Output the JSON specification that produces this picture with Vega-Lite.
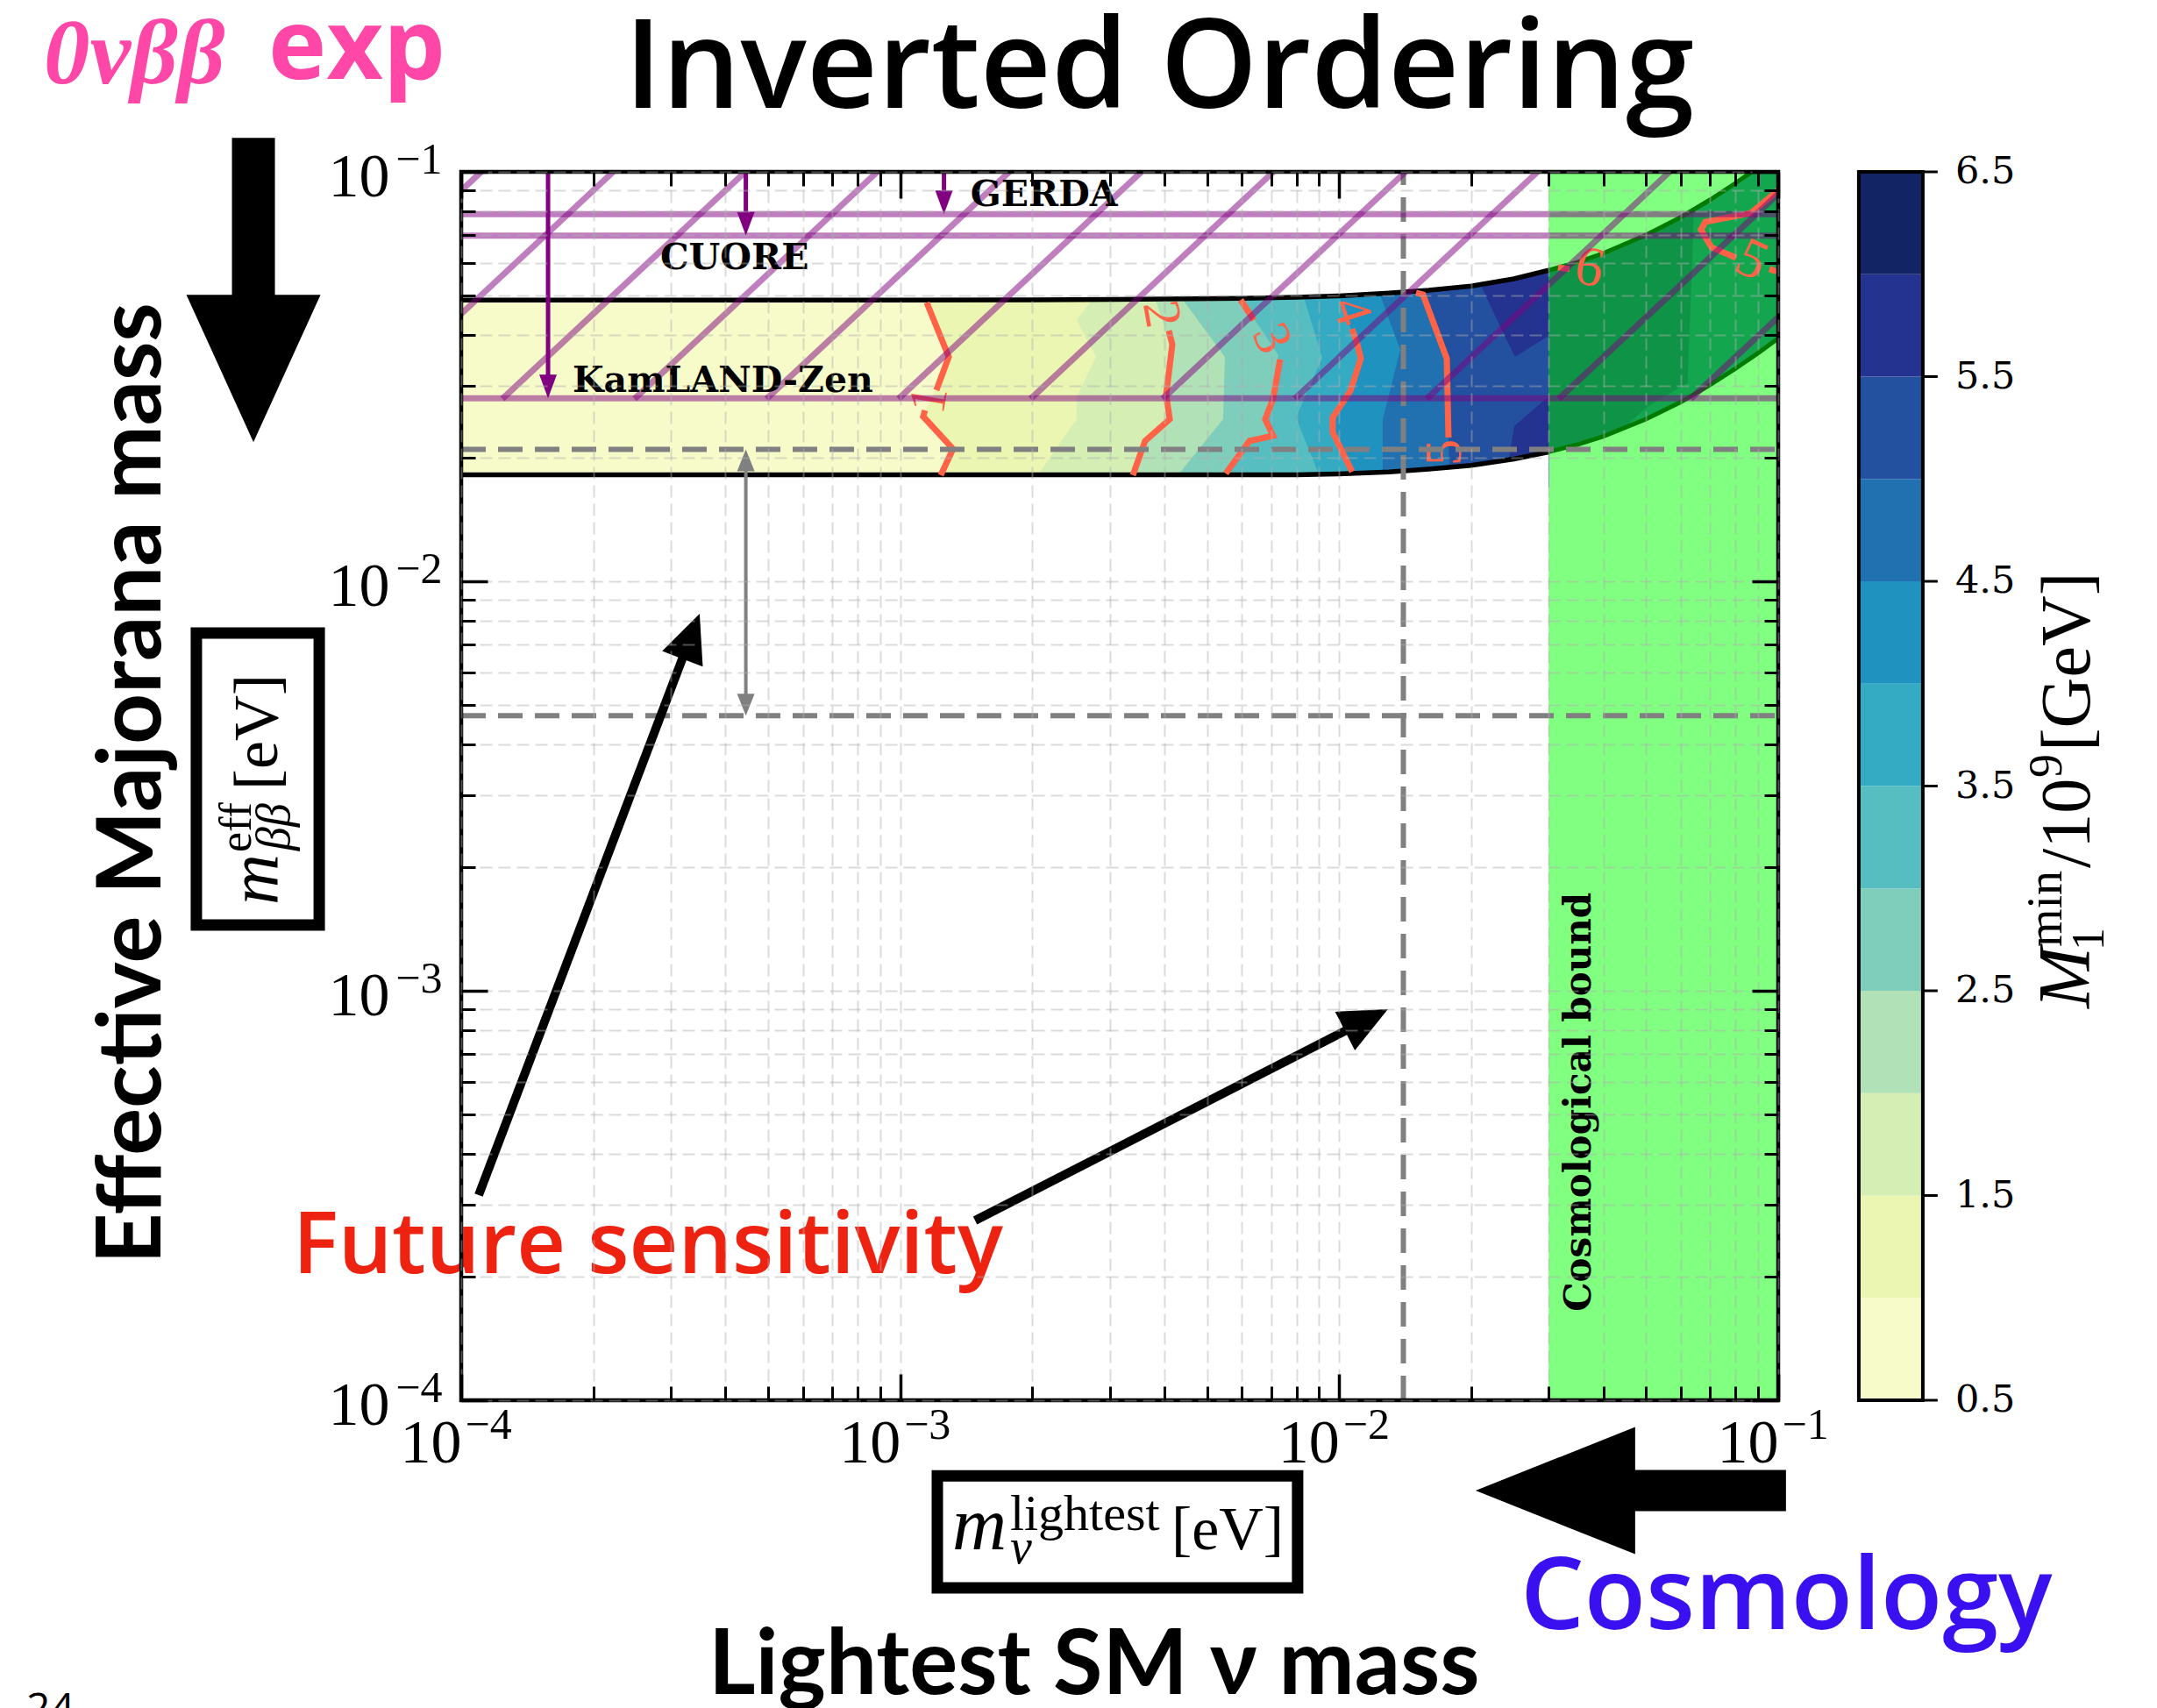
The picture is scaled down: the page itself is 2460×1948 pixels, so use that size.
{
"$schema": "https://vega.github.io/schema/vega-lite/v6.json",
"width": 1502, "height": 1401,
"autosize": {"type": "none"},
"padding": {"left": 526, "top": 196, "right": 432, "bottom": 351},
"background": "white",
"config": {"view": {"stroke": null}},
"datasets": {
"band": [
{"x":0.0001,"lo":0.0182,"hi":0.0486},{"x":0.0003,"lo":0.0182,"hi":0.0486},{"x":0.001,"lo":0.0182,"hi":0.0486},{"x":0.002,"lo":0.0182,"hi":0.0487},{"x":0.004,"lo":0.0182,"hi":0.0489},{"x":0.006,"lo":0.0182,"hi":0.0491},{"x":0.008,"lo":0.0182,"hi":0.0494},{"x":0.01,"lo":0.0183,"hi":0.0498},{"x":0.013,"lo":0.0185,"hi":0.0506},{"x":0.016,"lo":0.0188,"hi":0.0514},{"x":0.02,"lo":0.0192,"hi":0.0526},{"x":0.025,"lo":0.0199,"hi":0.0548},{"x":0.03,"lo":0.0207,"hi":0.0575},{"x":0.035,"lo":0.0216,"hi":0.0602},{"x":0.04,"lo":0.0226,"hi":0.0633},{"x":0.05,"lo":0.0249,"hi":0.0701},{"x":0.06,"lo":0.0274,"hi":0.0775},{"x":0.07,"lo":0.0302,"hi":0.0855},{"x":0.08,"lo":0.0331,"hi":0.0939},{"x":0.09,"lo":0.0361,"hi":0.1025},{"x":0.1,"lo":0.0392,"hi":0.1114}
],
"regions": [
{"lev":1.25,"part":"a","y":0.06,"x":0.001149,"x2":0.03},{"lev":1.25,"part":"a","y":0.04845,"x":0.001149,"x2":0.03},{"lev":1.25,"part":"a","y":0.03533,"x":0.00129,"x2":0.03},{"lev":1.25,"part":"a","y":0.029,"x":0.001198,"x2":0.03},{"lev":1.25,"part":"a","y":0.02552,"x":0.001128,"x2":0.03},{"lev":1.25,"part":"a","y":0.02105,"x":0.001319,"x2":0.03},{"lev":1.25,"part":"a","y":0.01816,"x":0.001237,"x2":0.03},{"lev":1.25,"part":"a","y":0.017,"x":0.001237,"x2":0.03},
{"lev":1.75,"part":"a","y":0.06,"x":0.002729,"x2":0.03},{"lev":1.75,"part":"a","y":0.04845,"x":0.002729,"x2":0.03},{"lev":1.75,"part":"a","y":0.04346,"x":0.002523,"x2":0.03},{"lev":1.75,"part":"a","y":0.03533,"x":0.002793,"x2":0.03},{"lev":1.75,"part":"a","y":0.02817,"x":0.002523,"x2":0.03},{"lev":1.75,"part":"a","y":0.02489,"x":0.002523,"x2":0.03},{"lev":1.75,"part":"a","y":0.01834,"x":0.002071,"x2":0.03},{"lev":1.75,"part":"a","y":0.017,"x":0.002071,"x2":0.03},
{"lev":2.25,"part":"a","y":0.06,"x":0.003818,"x2":0.03},{"lev":2.25,"part":"a","y":0.04845,"x":0.003818,"x2":0.03},{"lev":2.25,"part":"a","y":0.04198,"x":0.003998,"x2":0.03},{"lev":2.25,"part":"a","y":0.03786,"x":0.00411,"x2":0.03},{"lev":2.25,"part":"a","y":0.02858,"x":0.004035,"x2":0.03},{"lev":2.25,"part":"a","y":0.02489,"x":0.00411,"x2":0.03},{"lev":2.25,"part":"a","y":0.02201,"x":0.003612,"x2":0.03},{"lev":2.25,"part":"a","y":0.01816,"x":0.003388,"x2":0.03},{"lev":2.25,"part":"a","y":0.017,"x":0.003388,"x2":0.03},
{"lev":2.75,"part":"a","y":0.06,"x":0.004422,"x2":0.03},{"lev":2.75,"part":"a","y":0.04845,"x":0.004422,"x2":0.03},{"lev":2.75,"part":"a","y":0.03533,"x":0.00549,"x2":0.03},{"lev":2.75,"part":"a","y":0.02489,"x":0.00544,"x2":0.03},{"lev":2.75,"part":"a","y":0.01834,"x":0.004321,"x2":0.03},{"lev":2.75,"part":"a","y":0.017,"x":0.004321,"x2":0.03},
{"lev":3.25,"part":"a","y":0.06,"x":0.005963,"x2":0.03},{"lev":3.25,"part":"a","y":0.04869,"x":0.005963,"x2":0.03},{"lev":3.25,"part":"a","y":0.04076,"x":0.006691,"x2":0.03},{"lev":3.25,"part":"a","y":0.03568,"x":0.007267,"x2":0.03},{"lev":3.25,"part":"a","y":0.02789,"x":0.007069,"x2":0.03},{"lev":3.25,"part":"a","y":0.02489,"x":0.006782,"x2":0.03},{"lev":3.25,"part":"a","y":0.02267,"x":0.007069,"x2":0.03},{"lev":3.25,"part":"a","y":0.02201,"x":0.006244,"x2":0.03},{"lev":3.25,"part":"a","y":0.01834,"x":0.005515,"x2":0.03},{"lev":3.25,"part":"a","y":0.017,"x":0.005515,"x2":0.03},
{"lev":3.75,"part":"a","y":0.06,"x":0.008305,"x2":0.03},{"lev":3.75,"part":"a","y":0.04941,"x":0.008305,"x2":0.03},{"lev":3.75,"part":"a","y":0.03516,"x":0.009148,"x2":0.03},{"lev":3.75,"part":"a","y":0.02514,"x":0.007968,"x2":0.03},{"lev":3.75,"part":"a","y":0.01852,"x":0.00894,"x2":0.03},{"lev":3.75,"part":"a","y":0.017,"x":0.00894,"x2":0.03},
{"lev":4.25,"part":"a","y":0.06,"x":0.01003,"x2":0.03},{"lev":4.25,"part":"a","y":0.04917,"x":0.01003,"x2":0.03},{"lev":4.25,"part":"a","y":0.04178,"x":0.0106,"x2":0.03},{"lev":4.25,"part":"a","y":0.03786,"x":0.011,"x2":0.03},{"lev":4.25,"part":"a","y":0.03499,"x":0.0112,"x2":0.03},{"lev":4.25,"part":"a","y":0.02915,"x":0.0106,"x2":0.03},{"lev":4.25,"part":"a","y":0.02514,"x":0.009665,"x2":0.03},{"lev":4.25,"part":"a","y":0.02312,"x":0.009665,"x2":0.03},{"lev":4.25,"part":"a","y":0.01852,"x":0.0107,"x2":0.03},{"lev":4.25,"part":"a","y":0.017,"x":0.0107,"x2":0.03},
{"lev":4.75,"part":"a","y":0.06,"x":0.01245,"x2":0.03},{"lev":4.75,"part":"a","y":0.04941,"x":0.01245,"x2":0.03},{"lev":4.75,"part":"a","y":0.03675,"x":0.01377,"x2":0.03},{"lev":4.75,"part":"a","y":0.02477,"x":0.01256,"x2":0.03},{"lev":4.75,"part":"a","y":0.01852,"x":0.01256,"x2":0.03},{"lev":4.75,"part":"a","y":0.017,"x":0.01256,"x2":0.03},
{"lev":5.25,"part":"a","y":0.06,"x":0.01496,"x2":0.03},{"lev":5.25,"part":"a","y":0.05065,"x":0.01496,"x2":0.03},{"lev":5.25,"part":"a","y":0.05015,"x":0.01552,"x2":0.03},{"lev":5.25,"part":"a","y":0.03499,"x":0.01758,"x2":0.03},{"lev":5.25,"part":"a","y":0.02245,"x":0.01774,"x2":0.03},{"lev":5.25,"part":"a","y":0.0188,"x":0.01782,"x2":0.03},{"lev":5.25,"part":"a","y":0.017,"x":0.01782,"x2":0.03},
{"lev":5.75,"part":"a","y":0.06,"x":0.02113,"x2":0.03},{"lev":5.75,"part":"a","y":0.05216,"x":0.02113,"x2":0.03},{"lev":5.75,"part":"a","y":0.03977,"x":0.0238,"x2":0.03},{"lev":5.75,"part":"a","y":0.03533,"x":0.02515,"x2":0.02515},
{"lev":5.75,"part":"b","y":0.0283,"x":0.03,"x2":0.03},{"lev":5.75,"part":"b","y":0.02393,"x":0.02504,"x2":0.03},{"lev":5.75,"part":"b","y":0.01936,"x":0.02424,"x2":0.03},{"lev":5.75,"part":"b","y":0.017,"x":0.02424,"x2":0.03}
],
"ctr": [
{"seg":"1a","i":0,"x":0.001149,"y":0.04797},{"seg":"1a","i":1,"x":0.00129,"y":0.03533},{"seg":"1a","i":2,"x":0.001209,"y":0.02929},
{"seg":"1b","i":0,"x":0.001139,"y":0.02616},{"seg":"1b","i":1,"x":0.001128,"y":0.02527},{"seg":"1b","i":2,"x":0.001319,"y":0.02105},{"seg":"1b","i":3,"x":0.001237,"y":0.01816},
{"seg":"2","i":0,"x":0.004091,"y":0.04096},{"seg":"2","i":1,"x":0.004167,"y":0.03786},{"seg":"2","i":2,"x":0.004035,"y":0.02858},{"seg":"2","i":3,"x":0.00411,"y":0.02489},{"seg":"2","i":4,"x":0.003612,"y":0.02201},{"seg":"2","i":5,"x":0.003388,"y":0.01816},
{"seg":"3a","i":0,"x":0.005963,"y":0.04869},{"seg":"3a","i":1,"x":0.00639,"y":0.04346},
{"seg":"3b","i":0,"x":0.007334,"y":0.03482},{"seg":"3b","i":1,"x":0.007069,"y":0.02789},{"seg":"3b","i":2,"x":0.006782,"y":0.02489},{"seg":"3b","i":3,"x":0.007069,"y":0.02267},{"seg":"3b","i":4,"x":0.006244,"y":0.02201},{"seg":"3b","i":5,"x":0.005515,"y":0.01834},
{"seg":"4","i":0,"x":0.0107,"y":0.04137},{"seg":"4","i":1,"x":0.011,"y":0.03786},{"seg":"4","i":2,"x":0.0112,"y":0.03499},{"seg":"4","i":3,"x":0.0106,"y":0.02915},{"seg":"4","i":4,"x":0.009665,"y":0.02514},{"seg":"4","i":5,"x":0.009665,"y":0.02312},{"seg":"4","i":6,"x":0.0107,"y":0.01852},
{"seg":"5","i":0,"x":0.01496,"y":0.05065},{"seg":"5","i":1,"x":0.01552,"y":0.05015},{"seg":"5","i":2,"x":0.01758,"y":0.03499},{"seg":"5","i":3,"x":0.01774,"y":0.02245},
{"seg":"6","i":0,"x":0.03151,"y":0.05843},{"seg":"6","i":1,"x":0.03346,"y":0.05789},
{"seg":"5b","i":0,"x":0.1,"y":0.09016},{"seg":"5b","i":1,"x":0.08667,"y":0.0793},{"seg":"5b","i":2,"x":0.06823,"y":0.07547},{"seg":"5b","i":3,"x":0.06669,"y":0.07221},{"seg":"5b","i":4,"x":0.07047,"y":0.06541},{"seg":"5b","i":5,"x":0.08017,"y":0.06166},
{"seg":"5c","i":0,"x":0.09546,"y":0.05789},{"seg":"5c","i":1,"x":0.1,"y":0.05703}
]
},
"layer": [
{
"layer": [
{"data":{"values":[{"x":0.001,"y":0.001}]},"mark":{"type":"point","opacity":0},
 "encoding":{
  "x":{"field":"x","type":"quantitative","scale":{"type":"log","domain":[0.0001,0.1],"nice":false},
   "axis":{"orient":"bottom","values":[0.0001,0.001,0.01,0.1],"labelExpr":"'10'","ticks":false,"domain":false,"grid":false,"title":null,"labelFont":"Liberation Serif","labelFontSize":70,"labelColor":"black","labelAlign":"right","labelBaseline":"alphabetic","labelPadding":70,"labelOffset":0,"labelOverlap":false,"labelFlush":false,"labelBound":false}},
  "y":{"field":"y","type":"quantitative","scale":{"type":"log","domain":[0.0001,0.1],"nice":false},
   "axis":{"orient":"left","values":[0.0001,0.001,0.01,0.1],"labelExpr":"'10'","ticks":false,"domain":false,"grid":false,"title":null,"labelFont":"Liberation Serif","labelFontSize":70,"labelColor":"black","labelAlign":"right","labelBaseline":"alphabetic","labelPadding":82,"labelOffset":27,"labelOverlap":false,"labelFlush":false,"labelBound":false}}}},
{"data":{"values":[{"x":0.001,"y":0.001}]},"mark":{"type":"point","opacity":0},
 "encoding":{
  "x":{"field":"x","type":"quantitative","scale":{"type":"log"},
   "axis":{"orient":"bottom","values":[0.0001,0.001,0.01,0.1],"labelExpr":"'−' + (-round(log(datum.value) / LN10))","ticks":false,"domain":false,"grid":false,"title":null,"labelFont":"Liberation Serif","labelFontSize":50,"labelColor":"black","labelAlign":"left","labelBaseline":"alphabetic","labelPadding":43,"labelOffset":4,"labelOverlap":false,"labelFlush":false,"labelBound":false}},
  "y":{"field":"y","type":"quantitative","scale":{"type":"log"},
   "axis":{"orient":"left","values":[0.0001,0.001,0.01,0.1],"labelExpr":"'−' + (-round(log(datum.value) / LN10))","ticks":false,"domain":false,"grid":false,"title":null,"labelFont":"Liberation Serif","labelFontSize":50,"labelColor":"black","labelAlign":"right","labelBaseline":"alphabetic","labelPadding":22,"labelOffset":1,"labelOverlap":false,"labelFlush":false,"labelBound":false}}}},
{"data":{"values":[{"x":0.001,"y":0.001}]},"mark":{"type":"point","opacity":0},
 "encoding":{
  "x":{"field":"x","type":"quantitative","scale":{"type":"log"},
   "axis":{"orient":"bottom","values":[0.0001,0.001,0.01,0.1],"labels":false,"domain":false,"ticks":true,"tickSize":-30,"tickWidth":3.5,"tickColor":"black","grid":true,"gridColor":"#b0b0b0","gridOpacity":0.45,"gridDash":[14,7],"gridWidth":2,"title":null,"zindex":1}},
  "y":{"field":"y","type":"quantitative","scale":{"type":"log"},
   "axis":{"orient":"left","values":[0.0001,0.001,0.01,0.1],"labels":false,"domain":false,"ticks":true,"tickSize":-30,"tickWidth":3.5,"tickColor":"black","grid":true,"gridColor":"#b0b0b0","gridOpacity":0.45,"gridDash":[14,7],"gridWidth":2,"title":null,"zindex":1}}}},
{"data":{"values":[{"x":0.001,"y":0.001}]},"mark":{"type":"point","opacity":0},
 "encoding":{
  "x":{"field":"x","type":"quantitative","scale":{"type":"log"},
   "axis":{"orient":"bottom","values":[0.0002,0.0003,0.0004,0.0005,0.0006,0.0007,0.0008,0.0009,0.002,0.003,0.004,0.005,0.006,0.007,0.008,0.009,0.02,0.03,0.04,0.05,0.06,0.07,0.08,0.09],"labels":false,"domain":false,"ticks":true,"tickSize":-16,"tickWidth":3,"tickColor":"black","grid":true,"gridColor":"#b0b0b0","gridOpacity":0.45,"gridDash":[14,7],"gridWidth":2,"title":null,"zindex":1}},
  "y":{"field":"y","type":"quantitative","scale":{"type":"log"},
   "axis":{"orient":"left","values":[0.0002,0.0003,0.0004,0.0005,0.0006,0.0007,0.0008,0.0009,0.002,0.003,0.004,0.005,0.006,0.007,0.008,0.009,0.02,0.03,0.04,0.05,0.06,0.07,0.08,0.09],"labels":false,"domain":false,"ticks":true,"tickSize":-16,"tickWidth":3,"tickColor":"black","grid":true,"gridColor":"#b0b0b0","gridOpacity":0.45,"gridDash":[14,7],"gridWidth":2,"title":null,"zindex":1}}}},
{"data":{"values":[{"x":0.001,"y":0.001}]},"mark":{"type":"point","opacity":0},
 "encoding":{
  "x":{"field":"x","type":"quantitative","scale":{"type":"log"},
   "axis":{"orient":"top","values":[0.0001,0.001,0.01,0.1],"labels":false,"domain":false,"ticks":true,"tickSize":-30,"tickWidth":3.5,"tickColor":"black","grid":false,"title":null,"zindex":1}},
  "y":{"field":"y","type":"quantitative","scale":{"type":"log"},
   "axis":{"orient":"right","values":[0.0001,0.001,0.01,0.1],"labels":false,"domain":false,"ticks":true,"tickSize":-30,"tickWidth":3.5,"tickColor":"black","grid":false,"title":null,"zindex":1}}}},
{"data":{"values":[{"x":0.001,"y":0.001}]},"mark":{"type":"point","opacity":0},
 "encoding":{
  "x":{"field":"x","type":"quantitative","scale":{"type":"log"},
   "axis":{"orient":"top","values":[0.0002,0.0003,0.0004,0.0005,0.0006,0.0007,0.0008,0.0009,0.002,0.003,0.004,0.005,0.006,0.007,0.008,0.009,0.02,0.03,0.04,0.05,0.06,0.07,0.08,0.09],"labels":false,"domain":false,"ticks":true,"tickSize":-16,"tickWidth":3,"tickColor":"black","grid":false,"title":null,"zindex":1}},
  "y":{"field":"y","type":"quantitative","scale":{"type":"log"},
   "axis":{"orient":"right","values":[0.0002,0.0003,0.0004,0.0005,0.0006,0.0007,0.0008,0.0009,0.002,0.003,0.004,0.005,0.006,0.007,0.008,0.009,0.02,0.03,0.04,0.05,0.06,0.07,0.08,0.09],"labels":false,"domain":false,"ticks":true,"tickSize":-16,"tickWidth":3,"tickColor":"black","grid":false,"title":null,"zindex":1}}}},

{"data":{"values":[{"x":0.03,"x2":0.1,"y":0.0001,"y2":0.1}]},"mark":{"type":"rect","color":"#80ff80"},
 "encoding":{"x":{"field":"x","type":"quantitative","scale":{"type":"log"},"axis":null},"x2":{"field":"x2"},"y":{"field":"y","type":"quantitative","scale":{"type":"log"},"axis":null},"y2":{"field":"y2"}}},

{"data":{"name":"band"},"transform":[{"filter":"datum.x <= 0.03"}],"mark":{"type":"area","color":"#f7fbc9","orient":"vertical"},
 "encoding":{"x":{"field":"x","type":"quantitative","scale":{"type":"log"},"axis":null},"y":{"field":"lo","type":"quantitative","scale":{"type":"log"},"axis":null},"y2":{"field":"hi"}}},

{"data":{"name":"regions"},"transform":[{"filter":"datum.lev == 1.25"}],"mark":{"type":"area","orient":"horizontal","color":"#eaf6b1"},
 "encoding":{"y":{"field":"y","type":"quantitative","scale":{"type":"log"},"axis":null},"x":{"field":"x","type":"quantitative","scale":{"type":"log"},"axis":null},"x2":{"field":"x2"},"detail":{"field":"part"}}},
{"data":{"name":"regions"},"transform":[{"filter":"datum.lev == 1.75"}],"mark":{"type":"area","orient":"horizontal","color":"#d4eeb3"},
 "encoding":{"y":{"field":"y","type":"quantitative","scale":{"type":"log"},"axis":null},"x":{"field":"x","type":"quantitative","scale":{"type":"log"},"axis":null},"x2":{"field":"x2"},"detail":{"field":"part"}}},
{"data":{"name":"regions"},"transform":[{"filter":"datum.lev == 2.25"}],"mark":{"type":"area","orient":"horizontal","color":"#b1e1b6"},
 "encoding":{"y":{"field":"y","type":"quantitative","scale":{"type":"log"},"axis":null},"x":{"field":"x","type":"quantitative","scale":{"type":"log"},"axis":null},"x2":{"field":"x2"},"detail":{"field":"part"}}},
{"data":{"name":"regions"},"transform":[{"filter":"datum.lev == 2.75"}],"mark":{"type":"area","orient":"horizontal","color":"#7fcdbb"},
 "encoding":{"y":{"field":"y","type":"quantitative","scale":{"type":"log"},"axis":null},"x":{"field":"x","type":"quantitative","scale":{"type":"log"},"axis":null},"x2":{"field":"x2"},"detail":{"field":"part"}}},
{"data":{"name":"regions"},"transform":[{"filter":"datum.lev == 3.25"}],"mark":{"type":"area","orient":"horizontal","color":"#56bec1"},
 "encoding":{"y":{"field":"y","type":"quantitative","scale":{"type":"log"},"axis":null},"x":{"field":"x","type":"quantitative","scale":{"type":"log"},"axis":null},"x2":{"field":"x2"},"detail":{"field":"part"}}},
{"data":{"name":"regions"},"transform":[{"filter":"datum.lev == 3.75"}],"mark":{"type":"area","orient":"horizontal","color":"#35abc3"},
 "encoding":{"y":{"field":"y","type":"quantitative","scale":{"type":"log"},"axis":null},"x":{"field":"x","type":"quantitative","scale":{"type":"log"},"axis":null},"x2":{"field":"x2"},"detail":{"field":"part"}}},
{"data":{"name":"regions"},"transform":[{"filter":"datum.lev == 4.25"}],"mark":{"type":"area","orient":"horizontal","color":"#1f92c0"},
 "encoding":{"y":{"field":"y","type":"quantitative","scale":{"type":"log"},"axis":null},"x":{"field":"x","type":"quantitative","scale":{"type":"log"},"axis":null},"x2":{"field":"x2"},"detail":{"field":"part"}}},
{"data":{"name":"regions"},"transform":[{"filter":"datum.lev == 4.75"}],"mark":{"type":"area","orient":"horizontal","color":"#2171b1"},
 "encoding":{"y":{"field":"y","type":"quantitative","scale":{"type":"log"},"axis":null},"x":{"field":"x","type":"quantitative","scale":{"type":"log"},"axis":null},"x2":{"field":"x2"},"detail":{"field":"part"}}},
{"data":{"name":"regions"},"transform":[{"filter":"datum.lev == 5.25"}],"mark":{"type":"area","orient":"horizontal","color":"#2351a0"},
 "encoding":{"y":{"field":"y","type":"quantitative","scale":{"type":"log"},"axis":null},"x":{"field":"x","type":"quantitative","scale":{"type":"log"},"axis":null},"x2":{"field":"x2"},"detail":{"field":"part"}}},
{"data":{"name":"regions"},"transform":[{"filter":"datum.lev == 5.75"}],"mark":{"type":"area","orient":"horizontal","color":"#24338f"},
 "encoding":{"y":{"field":"y","type":"quantitative","scale":{"type":"log"},"axis":null},"x":{"field":"x","type":"quantitative","scale":{"type":"log"},"axis":null},"x2":{"field":"x2"},"detail":{"field":"part"}}},

{"data":{"name":"band"},"transform":[{"filter":"datum.x >= 0.001 && datum.x <= 0.03"}],"mark":{"type":"area","color":"white","orient":"vertical"},
 "encoding":{"x":{"field":"x","type":"quantitative","scale":{"type":"log"},"axis":null},"y":{"field":"hi","type":"quantitative","scale":{"type":"log"},"axis":null},"y2":{"datum":0.063}}},
{"data":{"name":"band"},"transform":[{"filter":"datum.x >= 0.001 && datum.x <= 0.03"}],"mark":{"type":"area","color":"white","orient":"vertical"},
 "encoding":{"x":{"field":"x","type":"quantitative","scale":{"type":"log"},"axis":null},"y":{"field":"lo","type":"quantitative","scale":{"type":"log"},"axis":null},"y2":{"datum":0.0165}}},

{"data":{"name":"band"},"transform":[{"filter":"datum.x >= 0.03"}],"mark":{"type":"area","color":"#0f9447","orient":"vertical","clip":true},
 "encoding":{"x":{"field":"x","type":"quantitative","scale":{"type":"log"},"axis":null},"y":{"field":"lo","type":"quantitative","scale":{"type":"log"},"axis":null},"y2":{"field":"hi"}}},
{"data":{"values":[{"x":0.04408,"lo":0.0235,"hi":0.0235},{"x":0.0501,"lo":0.0249,"hi":0.0266},{"x":0.0622,"lo":0.028,"hi":0.0305},{"x":0.0643,"lo":0.0286,"hi":0.081},{"x":0.07,"lo":0.0302,"hi":0.0855},{"x":0.08,"lo":0.0331,"hi":0.0939},{"x":0.09,"lo":0.0361,"hi":0.1025},{"x":0.1,"lo":0.0392,"hi":0.1114}]},
 "mark":{"type":"area","color":"#14a54f","orient":"vertical","clip":true},
 "encoding":{"x":{"field":"x","type":"quantitative","scale":{"type":"log"},"axis":null},"y":{"field":"lo","type":"quantitative","scale":{"type":"log"},"axis":null},"y2":{"field":"hi"}}},

{"data":{"name":"band"},"transform":[{"filter":"datum.x <= 0.03"}],"mark":{"type":"line","color":"black","strokeWidth":5.5,"clip":true},
 "encoding":{"x":{"field":"x","type":"quantitative","scale":{"type":"log"},"axis":null},"y":{"field":"hi","type":"quantitative","scale":{"type":"log"},"axis":null}}},
{"data":{"name":"band"},"transform":[{"filter":"datum.x <= 0.03"}],"mark":{"type":"line","color":"black","strokeWidth":5.5,"clip":true},
 "encoding":{"x":{"field":"x","type":"quantitative","scale":{"type":"log"},"axis":null},"y":{"field":"lo","type":"quantitative","scale":{"type":"log"},"axis":null}}},
{"data":{"name":"band"},"transform":[{"filter":"datum.x >= 0.03"}],"mark":{"type":"line","color":"#007a00","strokeWidth":5,"clip":true},
 "encoding":{"x":{"field":"x","type":"quantitative","scale":{"type":"log"},"axis":null},"y":{"field":"hi","type":"quantitative","scale":{"type":"log"},"axis":null}}},
{"data":{"name":"band"},"transform":[{"filter":"datum.x >= 0.03"}],"mark":{"type":"line","color":"#007a00","strokeWidth":5,"clip":true},
 "encoding":{"x":{"field":"x","type":"quantitative","scale":{"type":"log"},"axis":null},"y":{"field":"lo","type":"quantitative","scale":{"type":"log"},"axis":null}}},

{"data":{"name":"ctr"},"mark":{"type":"line","color":"#ff6347","strokeWidth":7,"clip":true},
 "encoding":{"x":{"field":"x","type":"quantitative","scale":{"type":"log"},"axis":null},"y":{"field":"y","type":"quantitative","scale":{"type":"log"},"axis":null},"detail":{"field":"seg"},"order":{"field":"i","type":"quantitative"}}},
{"data":{"values":[{"x":0.001166,"y":0.02775,"t":"1"}]},"mark":{"type":"text","angle":280,"font":"Liberation Serif","fontSize":60,"color":"#ff6347","align":"center","baseline":"middle"},
 "encoding":{"x":{"field":"x","type":"quantitative","scale":{"type":"log"},"axis":null},"y":{"field":"y","type":"quantitative","scale":{"type":"log"},"axis":null},"text":{"field":"t"}}},
{"data":{"values":[{"x":0.003925,"y":0.04498,"t":"2"}]},"mark":{"type":"text","angle":80,"font":"Liberation Serif","fontSize":60,"color":"#ff6347","align":"center","baseline":"middle"},
 "encoding":{"x":{"field":"x","type":"quantitative","scale":{"type":"log"},"axis":null},"y":{"field":"y","type":"quantitative","scale":{"type":"log"},"axis":null},"text":{"field":"t"}}},
{"data":{"values":[{"x":0.007004,"y":0.03917,"t":"3"}]},"mark":{"type":"text","angle":65,"font":"Liberation Serif","fontSize":60,"color":"#ff6347","align":"center","baseline":"middle"},
 "encoding":{"x":{"field":"x","type":"quantitative","scale":{"type":"log"},"axis":null},"y":{"field":"y","type":"quantitative","scale":{"type":"log"},"axis":null},"text":{"field":"t"}}},
{"data":{"values":[{"x":0.01065,"y":0.04565,"t":"4"}]},"mark":{"type":"text","angle":72,"font":"Liberation Serif","fontSize":60,"color":"#ff6347","align":"center","baseline":"middle"},
 "encoding":{"x":{"field":"x","type":"quantitative","scale":{"type":"log"},"axis":null},"y":{"field":"y","type":"quantitative","scale":{"type":"log"},"axis":null},"text":{"field":"t"}}},
{"data":{"values":[{"x":0.01741,"y":0.02064,"t":"5"}]},"mark":{"type":"text","angle":270,"font":"Liberation Serif","fontSize":60,"color":"#ff6347","align":"center","baseline":"middle"},
 "encoding":{"x":{"field":"x","type":"quantitative","scale":{"type":"log"},"axis":null},"y":{"field":"y","type":"quantitative","scale":{"type":"log"},"axis":null},"text":{"field":"t"}}},
{"data":{"values":[{"x":0.03719,"y":0.05815,"t":"6"}]},"mark":{"type":"text","angle":12,"font":"Liberation Serif","fontSize":64,"color":"#ff6347","align":"center","baseline":"middle"},
 "encoding":{"x":{"field":"x","type":"quantitative","scale":{"type":"log"},"axis":null},"y":{"field":"y","type":"quantitative","scale":{"type":"log"},"axis":null},"text":{"field":"t"}}},
{"data":{"values":[{"x":0.08707,"y":0.06076,"t":"5"}]},"mark":{"type":"text","angle":25,"font":"Liberation Serif","fontSize":64,"color":"#ff6347","align":"center","baseline":"middle"},
 "encoding":{"x":{"field":"x","type":"quantitative","scale":{"type":"log"},"axis":null},"y":{"field":"y","type":"quantitative","scale":{"type":"log"},"axis":null},"text":{"field":"t"}}},

{"data":{"values":[{"x":0.0001,"x2":0.1,"y":0.021,"y2":0.021},{"x":0.0001,"x2":0.1,"y":0.0047,"y2":0.0047},{"x":0.014,"x2":0.014,"y":0.0001,"y2":0.1}]},
 "mark":{"type":"rule","color":"#808080","strokeWidth":6,"strokeDash":[28,14],"clip":true},
 "encoding":{"x":{"field":"x","type":"quantitative","scale":{"type":"log"},"axis":null},"x2":{"field":"x2"},"y":{"field":"y","type":"quantitative","scale":{"type":"log"},"axis":null},"y2":{"field":"y2"}}},
{"data":{"values":[{"x":0.000445,"y":0.01974,"y2":0.004966}]},"mark":{"type":"rule","color":"#808080","strokeWidth":4},
 "encoding":{"x":{"field":"x","type":"quantitative","scale":{"type":"log"},"axis":null},"y":{"field":"y","type":"quantitative","scale":{"type":"log"},"axis":null},"y2":{"field":"y2"}}},
{"data":{"values":[{"x":0.000445,"y":0.021}]},"mark":{"type":"point","shape":"M0,0L0.4,1L-0.4,1Z","size":2500,"angle":0,"filled":true,"color":"#808080","opacity":1},
 "encoding":{"x":{"field":"x","type":"quantitative","scale":{"type":"log"},"axis":null},"y":{"field":"y","type":"quantitative","scale":{"type":"log"},"axis":null}}},
{"data":{"values":[{"x":0.000445,"y":0.0047}]},"mark":{"type":"point","shape":"M0,0L0.4,1L-0.4,1Z","size":2500,"angle":180,"filled":true,"color":"#808080","opacity":1},
 "encoding":{"x":{"field":"x","type":"quantitative","scale":{"type":"log"},"axis":null},"y":{"field":"y","type":"quantitative","scale":{"type":"log"},"axis":null}}},

{"data":{"values":[{"x":0.0001,"x2":0.1,"y":0.0788},{"x":0.0001,"x2":0.1,"y":0.0699},{"x":0.0001,"x2":0.1,"y":0.028}]},
 "mark":{"type":"rule","color":"#800080","opacity":0.5,"strokeWidth":7},
 "encoding":{"x":{"field":"x","type":"quantitative","scale":{"type":"log"},"axis":null},"x2":{"field":"x2"},"y":{"field":"y","type":"quantitative","scale":{"type":"log"},"axis":null}}},
{"data":{"values":[{"x":3.11e-5,"x2":1.111e-4,"y":0.0279,"y2":0.1},{"x":6.21e-5,"x2":2.219e-4,"y":0.0279,"y2":0.1},{"x":1.241e-4,"x2":4.437e-4,"y":0.0279,"y2":0.1},{"x":2.481e-4,"x2":8.867e-4,"y":0.0279,"y2":0.1},{"x":4.96e-4,"x2":1.773e-3,"y":0.0279,"y2":0.1},{"x":9.91e-4,"x2":3.543e-3,"y":0.0279,"y2":0.1},{"x":1.982e-3,"x2":7.08e-3,"y":0.0279,"y2":0.1},{"x":3.96e-3,"x2":1.416e-2,"y":0.0279,"y2":0.1},{"x":7.92e-3,"x2":2.83e-2,"y":0.0279,"y2":0.1},{"x":1.583e-2,"x2":5.656e-2,"y":0.0279,"y2":0.1},{"x":3.163e-2,"x2":0.1131,"y":0.0279,"y2":0.1},{"x":6.32e-2,"x2":0.226,"y":0.0279,"y2":0.1}]},
 "mark":{"type":"rule","color":"#800080","opacity":0.5,"strokeWidth":7,"clip":true},
 "encoding":{"x":{"field":"x","type":"quantitative","scale":{"type":"log"},"axis":null},"x2":{"field":"x2"},"y":{"field":"y","type":"quantitative","scale":{"type":"log"},"axis":null},"y2":{"field":"y2"}}},
{"data":{"values":[{"x":1.577e-4,"y":0.1,"y2":0.03003},{"x":4.45e-4,"y":0.1,"y2":0.0748},{"x":1.258e-3,"y":0.1,"y2":0.085}]},
 "mark":{"type":"rule","color":"#800080","strokeWidth":5},
 "encoding":{"x":{"field":"x","type":"quantitative","scale":{"type":"log"},"axis":null},"y":{"field":"y","type":"quantitative","scale":{"type":"log"},"axis":null},"y2":{"field":"y2"}}},
{"data":{"values":[{"x":1.577e-4,"y":0.028},{"x":4.45e-4,"y":0.0699},{"x":1.258e-3,"y":0.0788}]},
 "mark":{"type":"point","shape":"M0,0L0.37,1L-0.37,1Z","size":2916,"angle":180,"filled":true,"color":"#800080","opacity":1},
 "encoding":{"x":{"field":"x","type":"quantitative","scale":{"type":"log"},"axis":null},"y":{"field":"y","type":"quantitative","scale":{"type":"log"},"axis":null}}},

{"data":{"values":[{"x":1.446e-3,"y":0.0825,"t":"GERDA"},{"x":2.84e-4,"y":0.0579,"t":"CUORE"},{"x":1.793e-4,"y":0.029,"t":"KamLAND-Zen"}]},
 "mark":{"type":"text","font":"DejaVu Serif","fontWeight":"bold","fontSize":41,"color":"black","align":"left","baseline":"alphabetic"},
 "encoding":{"x":{"field":"x","type":"quantitative","scale":{"type":"log"},"axis":null},"y":{"field":"y","type":"quantitative","scale":{"type":"log"},"axis":null},"text":{"field":"t"}}},
{"data":{"values":[{"x":0.0352,"y":5.35e-4,"t":"Cosmological bound"}]},
 "mark":{"type":"text","font":"DejaVu Serif","fontWeight":"bold","fontSize":42,"color":"black","align":"center","baseline":"middle","angle":270},
 "encoding":{"x":{"field":"x","type":"quantitative","scale":{"type":"log"},"axis":null},"y":{"field":"y","type":"quantitative","scale":{"type":"log"},"axis":null},"text":{"field":"t"}}},

{"data":{"values":[{"x":1.096e-4,"y":3.17e-4,"x2":3.351e-4,"y2":7.44e-3},{"x":1.481e-3,"y":2.748e-4,"x2":1.167e-2,"y2":8.54e-4}]},
 "mark":{"type":"rule","color":"black","strokeWidth":10},
 "encoding":{"x":{"field":"x","type":"quantitative","scale":{"type":"log"},"axis":null},"x2":{"field":"x2"},"y":{"field":"y","type":"quantitative","scale":{"type":"log"},"axis":null},"y2":{"field":"y2"}}},
{"data":{"values":[{"x":3.492e-4,"y":8.334e-3}]},"mark":{"type":"point","shape":"M0,0L0.45,1L-0.45,1Z","size":12100,"angle":20.8,"filled":true,"color":"black","opacity":1},
 "encoding":{"x":{"field":"x","type":"quantitative","scale":{"type":"log"},"axis":null},"y":{"field":"y","type":"quantitative","scale":{"type":"log"},"axis":null}}},
{"data":{"values":[{"x":1.291e-2,"y":9.02e-4}]},"mark":{"type":"point","shape":"M0,0L0.45,1L-0.45,1Z","size":12100,"angle":62.9,"filled":true,"color":"black","opacity":1},
 "encoding":{"x":{"field":"x","type":"quantitative","scale":{"type":"log"},"axis":null},"y":{"field":"y","type":"quantitative","scale":{"type":"log"},"axis":null}}},
{"data":{"values":[{"x":4.136e-5,"y":2.044e-4,"t":"Future sensitivity"}]},
 "mark":{"type":"text","font":"Open Sans","fontWeight":600,"fontSize":97,"color":"#ee2211","align":"left","baseline":"alphabetic"},
 "encoding":{"x":{"field":"x","type":"quantitative","scale":{"type":"log"},"axis":null},"y":{"field":"y","type":"quantitative","scale":{"type":"log"},"axis":null},"text":{"field":"t"}}},

{"data":{"values":[{"x":0.0001,"x2":0.1,"y":0.0001,"y2":0.1}]},"mark":{"type":"rect","filled":false,"color":"black","strokeWidth":4.5},
 "encoding":{"x":{"field":"x","type":"quantitative","scale":{"type":"log"},"axis":null},"x2":{"field":"x2"},"y":{"field":"y","type":"quantitative","scale":{"type":"log"},"axis":null},"y2":{"field":"y2"}}},

{"data":{"values":[{"x":3.363e-5,"y":0.0516}]},"mark":{"type":"point","shape":"M-0.245,-1.73L0.245,-1.73L0.245,0.06L0.765,0.06L0,1.74L-0.765,0.06L-0.245,0.06Z","size":40000,"filled":true,"color":"black","opacity":1},
 "encoding":{"x":{"field":"x","type":"quantitative","scale":{"type":"log"},"axis":null},"y":{"field":"y","type":"quantitative","scale":{"type":"log"},"axis":null}}},
{"data":{"values":[{"x":0.04615,"y":6.017e-5}]},"mark":{"type":"point","shape":"M-1.77,0L0.05,-0.725L0.05,-0.235L1.77,-0.235L1.77,0.235L0.05,0.235L0.05,0.725Z","size":40000,"filled":true,"color":"black","opacity":1},
 "encoding":{"x":{"field":"x","type":"quantitative","scale":{"type":"log"},"axis":null},"y":{"field":"y","type":"quantitative","scale":{"type":"log"},"axis":null}}},

{"data":{"values":[{"x":3.889e-3,"y":0.1433,"t":"Inverted Ordering"}]},
 "mark":{"type":"text","font":"Open Sans","fontWeight":600,"fontSize":141,"color":"black","align":"center","baseline":"alphabetic"},
 "encoding":{"x":{"field":"x","type":"quantitative","scale":{"type":"log"},"axis":null},"y":{"field":"y","type":"quantitative","scale":{"type":"log"},"axis":null},"text":{"field":"t"}}},
{"data":{"values":[{"x":1.12e-5,"y":0.1645,"t":"0νββ"}]},
 "mark":{"type":"text","font":"Liberation Serif","fontStyle":"italic","fontWeight":"bold","fontSize":105,"color":"#ff47a8","align":"left","baseline":"alphabetic"},
 "encoding":{"x":{"field":"x","type":"quantitative","scale":{"type":"log"},"axis":null},"y":{"field":"y","type":"quantitative","scale":{"type":"log"},"axis":null},"text":{"field":"t"}}},
{"data":{"values":[{"x":3.636e-5,"y":0.1687,"t":"exp"}]},
 "mark":{"type":"text","font":"Open Sans","fontWeight":"bold","fontSize":112,"color":"#ff47a8","align":"left","baseline":"alphabetic"},
 "encoding":{"x":{"field":"x","type":"quantitative","scale":{"type":"log"},"axis":null},"y":{"field":"y","type":"quantitative","scale":{"type":"log"},"axis":null},"text":{"field":"t"}}},
{"data":{"values":[{"x":2.065e-5,"y":3.21e-3,"t":"Effective Majorana mass"}]},
 "mark":{"type":"text","font":"Lato","fontWeight":"bold","fontSize":101,"color":"black","align":"center","baseline":"alphabetic","angle":270},
 "encoding":{"x":{"field":"x","type":"quantitative","scale":{"type":"log"},"axis":null},"y":{"field":"y","type":"quantitative","scale":{"type":"log"},"axis":null},"text":{"field":"t"}}},

{"data":{"values":[{"x":2.493e-5,"x2":4.749e-5,"y":1.447e-3,"y2":7.476e-3}]},"mark":{"type":"rect","filled":false,"color":"black","strokeWidth":13},
 "encoding":{"x":{"field":"x","type":"quantitative","scale":{"type":"log"},"axis":null},"x2":{"field":"x2"},"y":{"field":"y","type":"quantitative","scale":{"type":"log"},"axis":null},"y2":{"field":"y2"}}},
{"data":{"values":[{"x":3.806e-5,"y":1.622e-3,"t":"m"}]},
 "mark":{"type":"text","font":"Liberation Serif","fontStyle":"italic","fontSize":80,"color":"black","align":"left","baseline":"alphabetic","angle":270},
 "encoding":{"x":{"field":"x","type":"quantitative","scale":{"type":"log"},"axis":null},"y":{"field":"y","type":"quantitative","scale":{"type":"log"},"axis":null},"text":{"field":"t"}}},
{"data":{"values":[{"x":3.806e-5,"y":1.622e-3,"t":"eff"}]},
 "mark":{"type":"text","font":"Liberation Serif","fontSize":52,"color":"black","align":"left","baseline":"alphabetic","angle":270,"dx":60,"dy":-30},
 "encoding":{"x":{"field":"x","type":"quantitative","scale":{"type":"log"},"axis":null},"y":{"field":"y","type":"quantitative","scale":{"type":"log"},"axis":null},"text":{"field":"t"}}},
{"data":{"values":[{"x":3.806e-5,"y":1.622e-3,"t":"ββ"}]},
 "mark":{"type":"text","font":"Liberation Serif","fontStyle":"italic","fontSize":54,"color":"black","align":"left","baseline":"alphabetic","angle":270,"dx":62,"dy":14},
 "encoding":{"x":{"field":"x","type":"quantitative","scale":{"type":"log"},"axis":null},"y":{"field":"y","type":"quantitative","scale":{"type":"log"},"axis":null},"text":{"field":"t"}}},
{"data":{"values":[{"x":3.806e-5,"y":1.622e-3,"t":"[eV]"}]},
 "mark":{"type":"text","font":"Liberation Serif","fontSize":72,"color":"black","align":"left","baseline":"alphabetic","angle":270,"dx":131},
 "encoding":{"x":{"field":"x","type":"quantitative","scale":{"type":"log"},"axis":null},"y":{"field":"y","type":"quantitative","scale":{"type":"log"},"axis":null},"text":{"field":"t"}}},

{"data":{"values":[{"x":1.215e-3,"x2":8.04e-3,"y":3.48e-5,"y2":6.54e-5}]},"mark":{"type":"rect","filled":false,"color":"black","strokeWidth":13},
 "encoding":{"x":{"field":"x","type":"quantitative","scale":{"type":"log"},"axis":null},"x2":{"field":"x2"},"y":{"field":"y","type":"quantitative","scale":{"type":"log"},"axis":null},"y2":{"field":"y2"}}},
{"data":{"values":[{"x":1.313e-3,"y":4.325e-5,"t":"m"}]},
 "mark":{"type":"text","font":"Liberation Serif","fontStyle":"italic","fontSize":86,"color":"black","align":"left","baseline":"alphabetic"},
 "encoding":{"x":{"field":"x","type":"quantitative","scale":{"type":"log"},"axis":null},"y":{"field":"y","type":"quantitative","scale":{"type":"log"},"axis":null},"text":{"field":"t"}}},
{"data":{"values":[{"x":1.313e-3,"y":4.325e-5,"t":"lightest"}]},
 "mark":{"type":"text","font":"Liberation Serif","fontSize":58,"color":"black","align":"left","baseline":"alphabetic","dx":66,"dy":-22},
 "encoding":{"x":{"field":"x","type":"quantitative","scale":{"type":"log"},"axis":null},"y":{"field":"y","type":"quantitative","scale":{"type":"log"},"axis":null},"text":{"field":"t"}}},
{"data":{"values":[{"x":1.313e-3,"y":4.325e-5,"t":"ν"}]},
 "mark":{"type":"text","font":"Liberation Serif","fontStyle":"italic","fontSize":56,"color":"black","align":"left","baseline":"alphabetic","dx":66,"dy":16},
 "encoding":{"x":{"field":"x","type":"quantitative","scale":{"type":"log"},"axis":null},"y":{"field":"y","type":"quantitative","scale":{"type":"log"},"axis":null},"text":{"field":"t"}}},
{"data":{"values":[{"x":1.313e-3,"y":4.325e-5,"t":"[eV]"}]},
 "mark":{"type":"text","font":"Liberation Serif","fontSize":70,"color":"black","align":"left","baseline":"alphabetic","dx":250},
 "encoding":{"x":{"field":"x","type":"quantitative","scale":{"type":"log"},"axis":null},"y":{"field":"y","type":"quantitative","scale":{"type":"log"},"axis":null},"text":{"field":"t"}}},

{"data":{"values":[{"x":3.657e-4,"y":1.917e-5,"t":"Lightest SM ν mass"}]},
 "mark":{"type":"text","font":"Lato","fontWeight":"bold","fontSize":103,"color":"black","align":"left","baseline":"alphabetic"},
 "encoding":{"x":{"field":"x","type":"quantitative","scale":{"type":"log"},"axis":null},"y":{"field":"y","type":"quantitative","scale":{"type":"log"},"axis":null},"text":{"field":"t"}}},
{"data":{"values":[{"x":0.02586,"y":2.761e-5,"t":"Cosmology"}]},
 "mark":{"type":"text","font":"Open Sans","fontWeight":600,"fontSize":115,"color":"#3a10f0","align":"left","baseline":"alphabetic"},
 "encoding":{"x":{"field":"x","type":"quantitative","scale":{"type":"log"},"axis":null},"y":{"field":"y","type":"quantitative","scale":{"type":"log"},"axis":null},"text":{"field":"t"}}},
{"data":{"values":[{"x":1.022e-5,"y":1.63e-5,"t":"24"}]},
 "mark":{"type":"text","font":"Open Sans","fontSize":48,"color":"black","align":"left","baseline":"alphabetic"},
 "encoding":{"x":{"field":"x","type":"quantitative","scale":{"type":"log"},"axis":null},"y":{"field":"y","type":"quantitative","scale":{"type":"log"},"axis":null},"text":{"field":"t"}}},

{"data":{"values":[{"x":0.5114,"y":9.06e-4,"t":"M"}]},
 "mark":{"type":"text","font":"Liberation Serif","fontStyle":"italic","fontSize":84,"color":"black","align":"left","baseline":"alphabetic","angle":270},
 "encoding":{"x":{"field":"x","type":"quantitative","scale":{"type":"log"},"axis":null},"y":{"field":"y","type":"quantitative","scale":{"type":"log"},"axis":null},"text":{"field":"t"}}},
{"data":{"values":[{"x":0.5114,"y":9.06e-4,"t":"1"}]},
 "mark":{"type":"text","font":"Liberation Serif","fontSize":52,"color":"black","align":"left","baseline":"alphabetic","angle":270,"dx":66,"dy":16},
 "encoding":{"x":{"field":"x","type":"quantitative","scale":{"type":"log"},"axis":null},"y":{"field":"y","type":"quantitative","scale":{"type":"log"},"axis":null},"text":{"field":"t"}}},
{"data":{"values":[{"x":0.5114,"y":9.06e-4,"t":"min"}]},
 "mark":{"type":"text","font":"Liberation Serif","fontSize":56,"color":"black","align":"left","baseline":"alphabetic","angle":270,"dx":70,"dy":-32},
 "encoding":{"x":{"field":"x","type":"quantitative","scale":{"type":"log"},"axis":null},"y":{"field":"y","type":"quantitative","scale":{"type":"log"},"axis":null},"text":{"field":"t"}}},
{"data":{"values":[{"x":0.5114,"y":9.06e-4,"t":"/10"}]},
 "mark":{"type":"text","font":"Liberation Serif","fontSize":80,"color":"black","align":"left","baseline":"alphabetic","angle":270,"dx":160},
 "encoding":{"x":{"field":"x","type":"quantitative","scale":{"type":"log"},"axis":null},"y":{"field":"y","type":"quantitative","scale":{"type":"log"},"axis":null},"text":{"field":"t"}}},
{"data":{"values":[{"x":0.5114,"y":9.06e-4,"t":"9"}]},
 "mark":{"type":"text","font":"Liberation Serif","fontSize":54,"color":"black","align":"left","baseline":"alphabetic","angle":270,"dx":263,"dy":-32},
 "encoding":{"x":{"field":"x","type":"quantitative","scale":{"type":"log"},"axis":null},"y":{"field":"y","type":"quantitative","scale":{"type":"log"},"axis":null},"text":{"field":"t"}}},
{"data":{"values":[{"x":0.5114,"y":9.06e-4,"t":"[GeV]"}]},
 "mark":{"type":"text","font":"Liberation Serif","fontSize":80,"color":"black","align":"left","baseline":"alphabetic","angle":270,"dx":293},
 "encoding":{"x":{"field":"x","type":"quantitative","scale":{"type":"log"},"axis":null},"y":{"field":"y","type":"quantitative","scale":{"type":"log"},"axis":null},"text":{"field":"t"}}}
],
"resolve": {"axis": {"x": "independent", "y": "independent"}}
},
{
"layer": [
{"data": {"values": [{"lo":0.5,"hi":1,"lev":0.75},{"lo":1,"hi":1.5,"lev":1.25},{"lo":1.5,"hi":2,"lev":1.75},{"lo":2,"hi":2.5,"lev":2.25},{"lo":2.5,"hi":3,"lev":2.75},{"lo":3,"hi":3.5,"lev":3.25},{"lo":3.5,"hi":4,"lev":3.75},{"lo":4,"hi":4.5,"lev":4.25},{"lo":4.5,"hi":5,"lev":4.75},{"lo":5,"hi":5.5,"lev":5.25},{"lo":5.5,"hi":6,"lev":5.75},{"lo":6,"hi":6.5,"lev":6.25}]},
 "mark":{"type":"rect"},
 "encoding":{
  "x":{"datum":0.1526,"type":"quantitative","scale":{"type":"log","domain":[0.0001,0.1],"nice":false},"axis":null},
  "x2":{"datum":0.2135},
  "y":{"field":"lo","type":"quantitative","scale":{"domain":[0.5,6.5],"nice":false,"zero":false},"axis":null},
  "y2":{"field":"hi"},
  "color":{"field":"lev","type":"quantitative","scale":{"type":"threshold","domain":[1,1.5,2,2.5,3,3.5,4,4.5,5,5.5,6],"range":["#f7fbc9","#eaf6b1","#d4eeb3","#b1e1b6","#7fcdbb","#56bec1","#35abc3","#1f92c0","#2171b1","#2351a0","#24338f","#132465"]},"legend":null}}},
{"data":{"values":[{"lo":0.5,"hi":6.5}]},"mark":{"type":"rect","filled":false,"color":"black","strokeWidth":4},
 "encoding":{
  "x":{"datum":0.1526,"type":"quantitative","scale":{"type":"log"},"axis":null},
  "x2":{"datum":0.2135},
  "y":{"field":"lo","type":"quantitative","axis":null},
  "y2":{"field":"hi"}}},
{"data":{"values":[{"v":0.5},{"v":1.5},{"v":2.5},{"v":3.5},{"v":4.5},{"v":5.5},{"v":6.5}]},
 "mark":{"type":"rule","color":"black","strokeWidth":3},
 "encoding":{
  "x":{"datum":0.2135,"type":"quantitative","scale":{"type":"log"},"axis":null},
  "x2":{"datum":0.2308},
  "y":{"field":"v","type":"quantitative","axis":null}}},
{"data":{"values":[{"v":0.5},{"v":1.5},{"v":2.5},{"v":3.5},{"v":4.5},{"v":5.5},{"v":6.5}]},
 "mark":{"type":"text","font":"DejaVu Serif","fontSize":43,"color":"black","align":"left","baseline":"middle"},
 "encoding":{
  "x":{"datum":0.2531,"type":"quantitative","scale":{"type":"log"},"axis":null},
  "y":{"field":"v","type":"quantitative","axis":null},
  "text":{"field":"v","type":"quantitative","format":".1f"}}}
]
}
],
"resolve": {"scale": {"y": "independent"}, "axis": {"x": "independent", "y": "independent"}}
}
